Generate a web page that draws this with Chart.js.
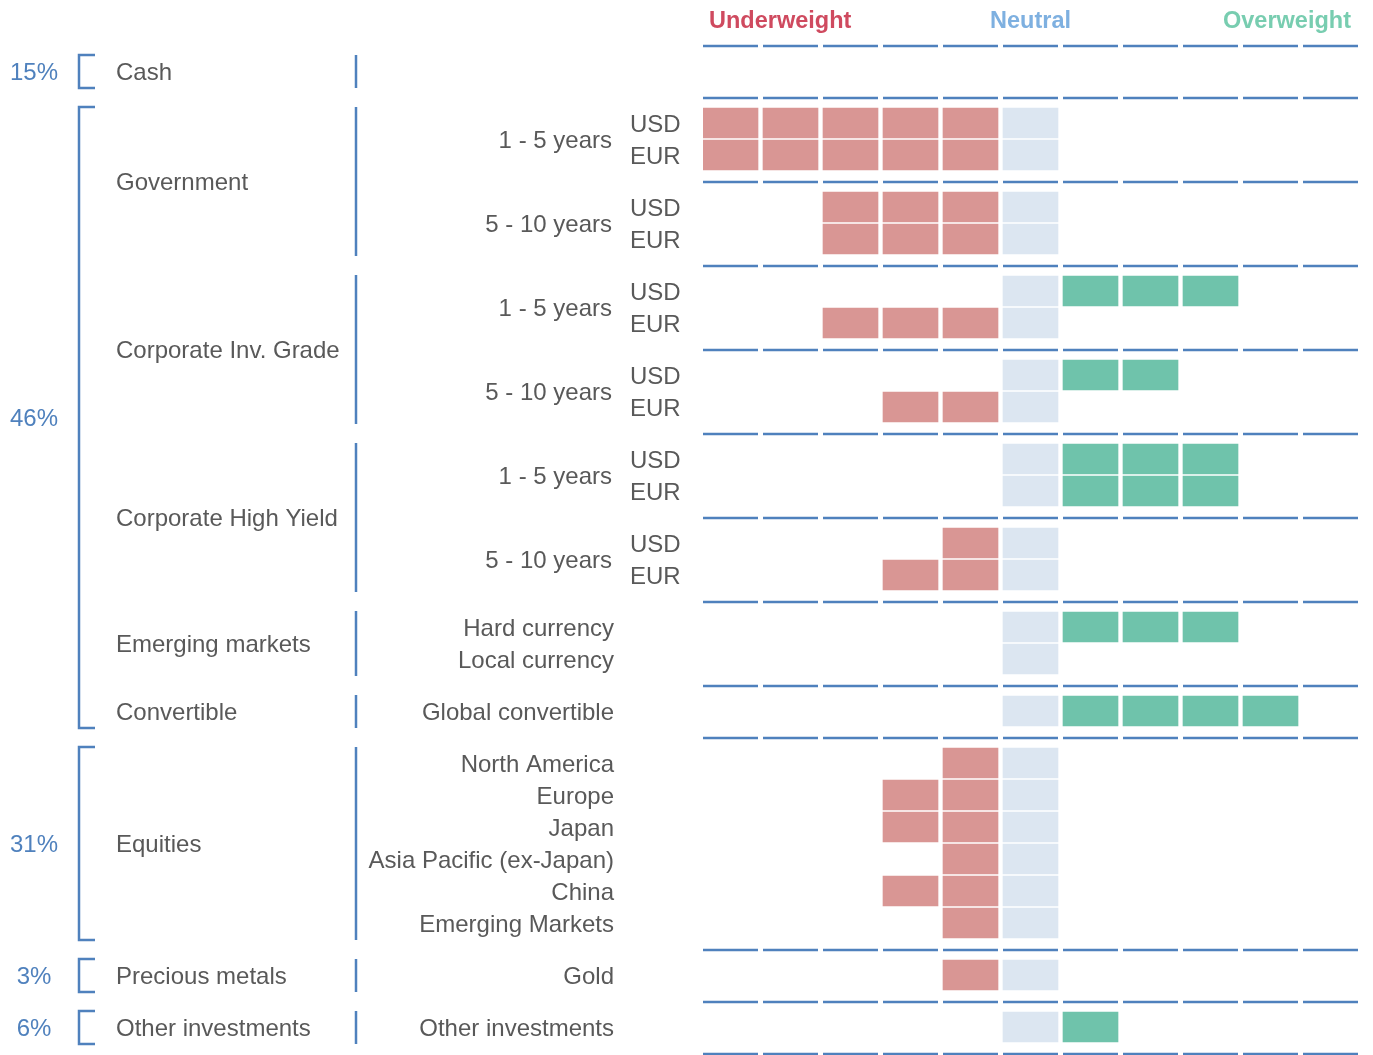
<!DOCTYPE html>
<html>
<head>
<meta charset="utf-8">
<title>Asset allocation</title>
<script src="https://cdn.jsdelivr.net/npm/chart.js@4.4.1/dist/chart.umd.min.js"></script>
<style>
  body { margin: 0; background: #ffffff; }
  canvas { display: block; }
</style>
</head>
<body>
<canvas id="allocChart" width="1373" height="1055"></canvas>
<script>
// ---------------------- DATA ----------------------
const headers = ["Underweight", "Neutral", "Overweight"];

// one entry per block (a block sits between two blue separator lines)
const blockClass = [
  "Cash",
  "Government", "Government",
  "Corporate Inv. Grade", "Corporate Inv. Grade",
  "Corporate High Yield", "Corporate High Yield",
  "Emerging markets",
  "Convertible",
  "Equities",
  "Precious metals",
  "Other investments",
];
const blockTenor = ["", "1 - 5 years", "5 - 10 years", "1 - 5 years", "5 - 10 years",
  "1 - 5 years", "5 - 10 years", "", "", "", "", ""];
const blockRows = [1, 2, 2, 2, 2, 2, 2, 2, 1, 6, 1, 1];

// one entry per row
const rowLabels = [
  "",
  "USD", "EUR", "USD", "EUR",
  "USD", "EUR", "USD", "EUR",
  "USD", "EUR", "USD", "EUR",
  "Hard currency", "Local currency",
  "Global convertible",
  "North America", "Europe", "Japan", "Asia Pacific (ex-Japan)", "China", "Emerging Markets",
  "Gold",
  "Other investments",
];
// negative = underweight cells, positive = overweight cells, 0 = neutral only, null = empty
const rowScores = [
  null,
  -5, -5, -3, -3,
  3, -3, 2, -2,
  3, 3, -1, -2,
  3, 0,
  4,
  -1, -2, -2, -1, -2, -1,
  -1,
  1,
];

const weightLabels = ["15%", "46%", "31%", "3%", "6%"];
const weightBlocks = [[0, 0], [1, 8], [9, 9], [10, 10], [11, 11]];

// ---------------------- STYLE / LAYOUT ----------------------
const PINK = "#d99694";
const NEUTRAL = "#dce6f1";
const GREEN = "#6fc3ab";
const LINE = "#4f81bd";
const TEXT = "#595959";
const HEAD_COLORS = ["#cf4a5f", "#7eb0e0", "#78cdb0"];
const FONT = "'Liberation Sans', Arial, sans-serif";

const ROW_H = 32;
const PAD = 10;
const N_COLS = 11;
const NEUTRAL_COL = 5;
const CELL_W = 55 / 60;

// block edges and row centres on the y scale
const blockTop = [];
const rowCenter = [];
const rowBlock = [];
let pos = 0;
blockRows.forEach((n, b) => {
  blockTop.push(pos);
  for (let r = 0; r < n; r++) {
    rowCenter.push(pos + PAD + ROW_H * r + ROW_H / 2);
    rowBlock.push(b);
  }
  pos += PAD * 2 + ROW_H * n;
});
const TOTAL = pos;
const blockEdges = blockTop.concat([TOTAL]);

function isFilled(score, col) {
  if (score === null) return false;
  if (col === NEUTRAL_COL) return true;
  if (col < NEUTRAL_COL) return score < 0 && col >= NEUTRAL_COL + score;
  return score > 0 && col <= NEUTRAL_COL + score;
}

const datasets = [];
for (let k = 0; k < N_COLS; k++) {
  const pts = [];
  rowScores.forEach((s, i) => {
    if (isFilled(s, k)) pts.push({ x: [k, k + CELL_W], y: rowCenter[i] });
  });
  datasets.push({
    data: pts,
    backgroundColor: k < NEUTRAL_COL ? PINK : k === NEUTRAL_COL ? NEUTRAL : GREEN,
    borderWidth: 0,
    barThickness: 30,
    grouped: false,
  });
}

// ---------------------- LABELS / LINES ----------------------
const labelPlugin = {
  id: "labels",
  afterDraw(chart) {
    const ctx = chart.ctx;
    const xs = chart.scales.x;
    const ys = chart.scales.y;
    const py = (v) => ys.getPixelForValue(v);
    ctx.save();

    // segmented separators
    ctx.strokeStyle = LINE;
    ctx.lineWidth = 2.5;
    blockEdges.forEach((v) => {
      const y = py(v) + 1;
      for (let k = 0; k < N_COLS; k++) {
        ctx.beginPath();
        ctx.moveTo(xs.getPixelForValue(k), y);
        ctx.lineTo(xs.getPixelForValue(k + CELL_W), y);
        ctx.stroke();
      }
    });

    // headers
    ctx.font = "bold 23.5px " + FONT;
    ctx.textBaseline = "middle";
    ctx.fillStyle = HEAD_COLORS[0];
    ctx.textAlign = "left";
    ctx.fillText(headers[0], xs.getPixelForValue(0) + 6, 22);
    ctx.fillStyle = HEAD_COLORS[1];
    ctx.textAlign = "center";
    ctx.fillText(headers[1], xs.getPixelForValue(NEUTRAL_COL + CELL_W / 2), 22);
    ctx.fillStyle = HEAD_COLORS[2];
    ctx.textAlign = "right";
    ctx.fillText(headers[2], xs.getPixelForValue(N_COLS - 1 + CELL_W) - 7, 22);

    ctx.font = "24px " + FONT;

    // weight brackets + percentages
    weightBlocks.forEach(([b0, b1], i) => {
      const top = py(blockTop[b0]) + PAD;
      const bot = py(blockEdges[b1 + 1]) - PAD + 1;
      ctx.strokeStyle = LINE;
      ctx.lineWidth = 2.5;
      ctx.beginPath();
      ctx.moveTo(95, top);
      ctx.lineTo(79, top);
      ctx.lineTo(79, bot);
      ctx.lineTo(95, bot);
      ctx.stroke();
      ctx.fillStyle = LINE;
      ctx.textAlign = "center";
      ctx.fillText(weightLabels[i], 34, (top + bot) / 2 + 2);
    });

    // asset class names + divider
    let b = 0;
    while (b < blockClass.length) {
      let e = b;
      while (e + 1 < blockClass.length && blockClass[e + 1] === blockClass[b]) e++;
      const top = py(blockTop[b]) + PAD;
      const bot = py(blockEdges[e + 1]) - PAD + 1;
      ctx.strokeStyle = LINE;
      ctx.lineWidth = 2.5;
      ctx.beginPath();
      ctx.moveTo(356, top);
      ctx.lineTo(356, bot);
      ctx.stroke();
      ctx.fillStyle = TEXT;
      ctx.textAlign = "left";
      ctx.fillText(blockClass[b], 116, (top + bot) / 2 + 2);
      b = e + 1;
    }

    // tenors
    ctx.fillStyle = TEXT;
    ctx.textAlign = "right";
    blockTenor.forEach((t, i) => {
      if (!t) return;
      ctx.fillText(t, 612, (py(blockTop[i]) + py(blockEdges[i + 1])) / 2 + 2);
    });

    // row labels
    rowLabels.forEach((lab, i) => {
      if (!lab) return;
      const hasTenor = blockTenor[rowBlock[i]] !== "";
      ctx.textAlign = hasTenor ? "left" : "right";
      ctx.fillText(lab, hasTenor ? 630 : 614, py(rowCenter[i]) + 2);
    });

    ctx.restore();
  },
};

// ---------------------- CHART ----------------------
document.addEventListener("DOMContentLoaded", function () {
  const ctx = document.getElementById("allocChart").getContext("2d");
  new Chart(ctx, {
    type: "bar",
    data: { datasets: datasets },
    options: {
      indexAxis: "y",
      responsive: false,
      animation: false,
      layout: { padding: { left: 703, right: 10, top: 45, bottom: 2 } },
      plugins: { legend: { display: false }, tooltip: { enabled: false } },
      scales: {
        x: { type: "linear", min: 0, max: N_COLS, display: false },
        y: { type: "linear", min: 0, max: TOTAL, reverse: true, offset: false, display: false },
      },
    },
    plugins: [labelPlugin],
  });
});
</script>
</body>
</html>
